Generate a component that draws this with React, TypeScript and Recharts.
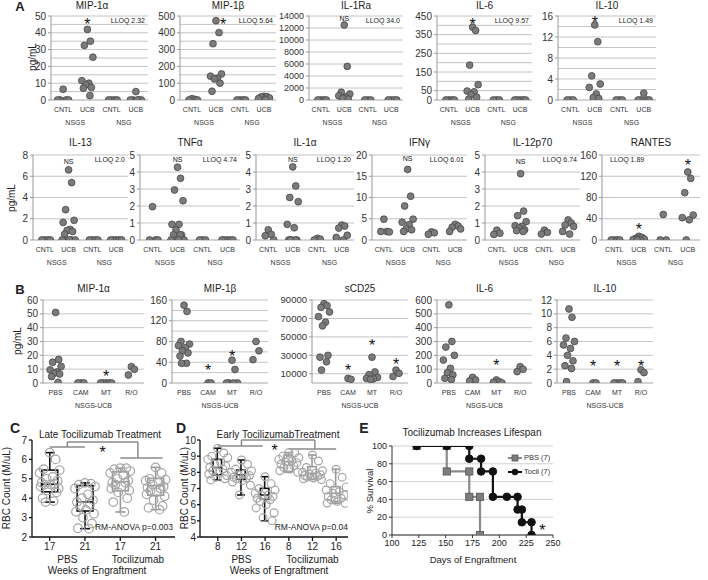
import React from 'react';
import {
  ScatterChart,
  ComposedChart,
  Scatter,
  Bar,
  Line,
  XAxis,
  YAxis,
  ReferenceLine,
  CartesianGrid
} from 'recharts';

const FONT = '"Liberation Sans", Arial, Helvetica, sans-serif';
const INK = '#222';
const DOT_FILL = '#7b7b7b';
const DOT_EDGE = '#474747';
const GRID = '#c4c4c4';

// ---------- A: cytokines in NSGS / NSG mice ----------
const mouseCats = ['CNTL', 'UCB', 'CNTL', 'UCB'];
const mouseGroups = ['NSGS', 'NSG'];

const aMip1a = [[6.4, 0, 0, 0, 0], [42, 35, 32.5, 25.5, 11.5, 10, 9, 7.5, 7, 2.6], [0, 0, 0, 0], [5, 0, 0, 0, 0, 0]];
const aMip1b = [[8, 3, 0, 0], [472, 401, 335, 155, 142, 130, 125, 100, 52], [0, 0, 0, 0], [22, 20, 18, 12, 8, 3]];
const aIl1ra = [[0, 0, 0, 0], [12500, 5600, 1300, 1000, 700, 500, 300, 150], [0, 0, 0], [0, 0, 0, 0]];
const aIl6 = [[0, 0, 0, 0], [390, 372, 187, 82, 48, 44, 28, 15, 4], [0, 0, 0], [0, 0, 0, 0, 0]];
const aIl10 = [[0, 0, 0], [14.3, 11.1, 4.6, 3.05, 2.4, 1.15, 0.45, 0.3], [0, 0, 0], [1.3, 0, 0, 0, 0]];

const aIl13 = [[0, 0, 0, 0], [6.6, 5.4, 2.85, 1.85, 1.65, 1.0, 0.9, 0.8, 0.55, 0, 0, 0, 0, 0], [0, 0, 0, 0], [0, 0, 0, 0, 0]];
const aTnfa = [[1.96, 0, 0, 0], [4.28, 3.63, 2.94, 2.31, 0.92, 0.92, 0.6, 0.3, 0.3, 0.3, 0, 0, 0, 0], [0, 0, 0], [0, 0, 0, 0, 0]];
const aIl1a = [[0.6, 0.33, 0.25, 0], [4.3, 3.18, 2.5, 2.25, 0.92, 0.72, 0, 0, 0, 0, 0], [0.1, 0.05, 0], [0.88, 0.82, 0.7, 0.28, 0.15, 0]];
const aIfng = [[4.9, 2, 2, 1.9], [16.6, 10.3, 8.0, 4.9, 4.2, 3.6, 2.6, 2.4, 2.0], [1.9, 1.7, 1.35], [3.7, 3.3, 3.0, 2.6, 2.0]];
const aIl12 = [[0.58, 0.4, 0.33], [3.9, 1.7, 1.43, 1.08, 0.84, 0.8, 0.7, 0.6, 0.55, 0.5], [0.58, 0.45, 0.35], [1.18, 1.0, 0.88, 0.8, 0.5, 0.35]];
const aRantes = [[0, 0, 0, 0], [7, 5, 3, 2, 1, 0, 0], [48, 0, 0], [128, 116, 89, 47, 42, 38, 0]];

// ---------- B: NSGS-UCB treatments ----------
const treatCats = ['PBS', 'CAM', 'MT', 'R/O'];
const treatGroups = ['NSGS-UCB'];

const bMip1a = [[51, 17, 15, 12, 9.5, 8, 7, 6.5, 4.6, 0.5], [0, 0, 0], [0, 0, 0, 0, 0], [11.8, 9.9, 5.8]];
const bMip1b = [[150, 138, 80, 75, 72, 68, 62, 58, 52, 38, 38], [0, 0], [44, 26, 0, 0, 0, 0], [80, 62, 45]];
const bScd25 = [[86000, 84000, 82000, 77000, 72000, 66000, 62000, 30000, 28000, 23000, 14000], [5000, 4000], [28000, 12000, 9000, 6000, 5000, 4500, 4000], [14000, 10500, 7000]];
const bIl6 = [[565, 300, 260, 200, 166, 106, 74, 58, 34, 25], [41, 22, 15], [22, 9, 5, 0], [118, 99, 82]];
const bIl10 = [[10.7, 9.5, 6.5, 6, 5.5, 5, 4, 3.2, 2.5, 2.1, 0.2], [0, 0], [0, 0, 0, 0], [1.9, 1.5, 0.2]];

// ---------- C / D: RBC counts ----------
const cWeeks = ['17', '21', '17', '21'];
const cGroups = ['PBS', 'Tocilizumab'];
// min, q1, median, q3, max
const cStats = [
  [3.8, 4.33, 4.72, 5.45, 6.35],
  [2.43, 3.34, 3.81, 4.65, 4.79],
  [3.29, 4.38, 4.85, 5.36, 5.55],
  [3.41, 4.15, 4.65, 5.02, 5.59]
];
const cPoints = [
  [6.35, 6.0, 5.5, 5.45, 5.3, 5.1, 5.0, 4.9, 4.8, 4.75, 4.7, 4.7, 4.6, 4.5, 4.4, 4.3, 4.0, 3.85, 3.8],
  [4.79, 4.75, 4.7, 4.6, 4.5, 4.2, 4.0, 3.9, 3.8, 3.7, 3.6, 3.4, 3.3, 3.2, 3.0, 2.7, 2.45, 2.43],
  [5.55, 5.55, 5.5, 5.4, 5.3, 5.2, 5.0, 4.9, 4.8, 4.8, 4.7, 4.6, 4.5, 4.4, 4.3, 4.0, 3.8, 3.29],
  [5.59, 5.3, 5.0, 4.95, 4.9, 4.8, 4.7, 4.6, 4.55, 4.5, 4.4, 4.3, 4.2, 4.1, 3.9, 3.6, 3.5, 3.41]
];

const dWeeks = ['8', '12', '16', '8', '12', '16'];
const dGroups = ['PBS', 'Tocilizumab'];
const dStats = [
  [7.53, 7.85, 8.3, 8.8, 9.49],
  [6.6, 7.57, 7.84, 8.14, 8.76],
  [5.0, 6.33, 6.6, 7.01, 7.73],
  [8.0, 8.05, 8.66, 9.07, 9.22],
  [7.55, 7.57, 7.94, 8.35, 9.07],
  [6.08, 6.19, 6.7, 7.11, 8.19]
];
const dPoints = [
  [9.49, 9.2, 9.0, 8.9, 8.8, 8.6, 8.5, 8.4, 8.3, 8.2, 8.1, 8.0, 7.9, 7.8, 7.7, 7.6, 7.53],
  [8.76, 8.5, 8.2, 8.1, 8.0, 7.9, 7.85, 7.8, 7.7, 7.65, 7.6, 7.5, 7.4, 7.2, 6.6],
  [7.73, 7.3, 7.0, 6.9, 6.7, 6.6, 6.55, 6.5, 6.4, 6.3, 6.2, 6.0, 5.8, 5.5, 5.2, 5.0],
  [9.22, 9.2, 9.0, 8.9, 8.8, 8.7, 8.65, 8.6, 8.5, 8.4, 8.3, 8.2, 8.1, 8.0],
  [9.07, 8.7, 8.3, 8.1, 8.0, 7.95, 7.9, 7.85, 7.8, 7.75, 7.7, 7.65, 7.6, 7.55],
  [8.19, 7.7, 7.3, 7.1, 6.9, 6.8, 6.7, 6.6, 6.5, 6.4, 6.3, 6.2, 6.1, 6.08]
];

// ---------- E: survival ----------
const pbsDays = [123, 151, 151, 172, 172, 182, 182];
const pbsSurv = [100, 100, 71.4, 71.4, 42.9, 42.9, 0];
const tocDays = [123, 151, 172, 172, 183, 183, 194, 194, 207, 217, 217, 221, 221, 230, 230];
const tocSurv = [100, 100, 100, 85.7, 85.7, 71.4, 71.4, 42.9, 42.9, 42.9, 28.6, 28.6, 14.3, 14.3, 0];
const dayTicks = [100, 125, 150, 175, 200, 225, 250];
const survTicks = [0, 20, 40, 60, 80, 100];

const steps = (max: number, step: number) =>
  Array.from({ length: Math.round(max / step) + 1 }, (_, i) => i * step);

function Txt({ x, y, size = 10, anchor = 'middle', bold = false, rotate = false, color = INK, children }: any) {
  const tx = anchor === 'middle' ? '-50%' : anchor === 'end' ? '-100%' : '0';
  return (
    <div
      style={{
        position: 'absolute',
        left: x,
        top: y,
        transform: `translate(${tx}, -50%)${rotate ? ' rotate(-90deg)' : ''}`,
        fontSize: size,
        fontWeight: bold ? 700 : 400,
        whiteSpace: 'nowrap',
        lineHeight: 1,
        color,
        fontFamily: FONT
      }}
    >
      {children}
    </div>
  );
}

const JIT = [0, 3, -3, 5.5, -5.5, 1.5, -1.5, 4, -4, 2.5, -2.5, 6.5, -6.5, 1, -1];

function DotShape(props: any) {
  const { cx, cy, payload } = props;
  if (cx == null || cy == null) return null;
  return (
    <circle cx={cx + JIT[payload.k % JIT.length]} cy={cy} r={3.4} fill={DOT_FILL} stroke={DOT_EDGE} strokeWidth={0.8} />
  );
}

function NoteShape(props: any) {
  const { cx, cy, payload } = props;
  if (cx == null || cy == null) return null;
  const star = payload.text === '*';
  return (
    <text x={cx} y={cy + (star ? 9 : 2.5)} textAnchor="middle" fontSize={star ? 16 : 7} fontFamily={FONT} fill="#111">
      {payload.text}
    </text>
  );
}

type Note = { at: number; v: number; text: string };
type DotCfg = {
  title: string;
  values: number[][];
  cats: string[];
  groups: { label: string; at: number }[];
  max: number;
  ticks: number[];
  grid: number[];
  notes: Note[];
  lloq?: string;
  lloqLeft?: boolean;
  x0: number;
  x1: number;
  y0: number;
  y1: number;
  titleY: number;
  titleX?: number;
  tickFont?: number;
};

function DotPanel({ c }: { c: DotCfg }) {
  const AXW = 44, PT = 14, PR = 4, XH = 32;
  const n = c.cats.length;
  const step = (c.x1 - c.x0) / n;
  const pts = c.values.flatMap((vals, ci) => vals.map((v, k) => ({ x: ci + 1, y: v, k })));
  const notes = c.notes.map((m) => ({ x: m.at, y: m.v, text: m.text }));
  const catTick = (props: any) => {
    const { x, y, payload } = props;
    const v = payload.value as number;
    return (
      <g fontFamily={FONT} fill="#333" fontSize={7}>
        <text x={x} y={y + 12} textAnchor="middle">{c.cats[v - 1]}</text>
        {c.groups
          .filter((g) => Math.floor(g.at) === v)
          .map((g) => (
            <text key={g.label} x={x + (g.at - v) * step} y={y + 25} textAnchor="middle">
              {g.label}
            </text>
          ))}
      </g>
    );
  };
  return (
    <>
      <div style={{ position: 'absolute', left: c.x0 - AXW, top: c.y0 - PT }}>
        <ScatterChart
          width={c.x1 - c.x0 + AXW + PR}
          height={c.y1 - c.y0 + PT + XH}
          margin={{ top: PT, right: PR, bottom: 0, left: 0 }}
        >
          {c.grid.map((g) => (
            <ReferenceLine key={g} y={g} stroke={GRID} strokeWidth={1} />
          ))}
          <XAxis
            type="number"
            dataKey="x"
            domain={[0.5, n + 0.5]}
            ticks={c.cats.map((_, i) => i + 1)}
            interval={0}
            tick={catTick}
            tickLine={false}
            tickSize={0}
            tickMargin={0}
            axisLine={{ stroke: GRID }}
            height={XH}
            allowDataOverflow
          />
          <YAxis
            type="number"
            dataKey="y"
            domain={[0, c.max]}
            ticks={c.ticks}
            interval={0}
            width={AXW}
            tick={{ fontSize: c.tickFont ?? 10, fill: '#333', fontFamily: FONT }}
            tickSize={3}
            tickMargin={2}
            tickLine={{ stroke: '#999' }}
            axisLine={{ stroke: '#999' }}
            allowDataOverflow
          />
          <Scatter data={pts} shape={DotShape} isAnimationActive={false} />
          <Scatter data={notes} shape={NoteShape} isAnimationActive={false} />
        </ScatterChart>
      </div>
      <Txt x={c.titleX ?? (c.x0 + c.x1) / 2} y={c.titleY} size={10}>
        {c.title}
      </Txt>
      {c.lloq ? (
        c.lloqLeft ? (
          <Txt x={c.x0 + 8} y={c.y0 + 4} size={7} anchor="start">{c.lloq}</Txt>
        ) : (
          <Txt x={c.x1 - 3} y={c.y0 + 4} size={7} anchor="end">{c.lloq}</Txt>
        )
      ) : null}
    </>
  );
}

const mg = [{ label: mouseGroups[0], at: 1.5 }, { label: mouseGroups[1], at: 3.5 }];
const tg = [{ label: treatGroups[0], at: 2.5 }];

const rowA1: DotCfg[] = [
  { title: 'MIP-1α', values: aMip1a, max: 50, ticks: [0, 10, 20, 30, 40, 50], grid: steps(50, 5), notes: [{ at: 2, v: 47, text: '*' }], lloq: 'LLOQ 2.32', x0: 51, x1: 148, titleX: 92 },
  { title: 'MIP-1β', values: aMip1b, max: 500, ticks: [0, 100, 200, 300, 400, 500], grid: steps(500, 50), notes: [{ at: 2.3, v: 472, text: '*' }], lloq: 'LLOQ 5.64', x0: 180, x1: 276 },
  { title: 'IL-1Ra', values: aIl1ra, max: 14000, ticks: [0, 2000, 4000, 6000, 8000, 10000, 12000, 14000], grid: steps(14000, 2000), notes: [{ at: 2, v: 13600, text: 'NS' }], lloq: 'LLOQ 34.0', x0: 309, x1: 403, tickFont: 9 },
  { title: 'IL-6', values: aIl6, max: 450, ticks: [0, 50, 150, 250, 350, 450], grid: steps(450, 50), notes: [{ at: 2, v: 425, text: '*' }], lloq: 'LLOQ 9.57', x0: 437, x1: 532 },
  { title: 'IL-10', values: aIl10, max: 16, ticks: [0, 4, 8, 12, 16], grid: steps(16, 2), notes: [{ at: 2, v: 15.5, text: '*' }], lloq: 'LLOQ 1.49', x0: 558, x1: 656 }
].map((p) => ({ ...p, cats: mouseCats, groups: mg, y0: 16, y1: 100, titleY: 6 }));

const rowA2: DotCfg[] = [
  { title: 'IL-13', values: aIl13, max: 8, ticks: [0, 2, 4, 6, 8], grid: steps(8, 2), notes: [{ at: 2, v: 7.4, text: 'NS' }], lloq: 'LLOQ 2.0', x0: 33, x1: 128 },
  { title: 'TNFα', values: aTnfa, max: 5, ticks: [0, 1, 2, 3, 4, 5], grid: steps(5, 1), notes: [{ at: 2, v: 4.75, text: 'NS' }], lloq: 'LLOQ 4.74', x0: 140, x1: 240 },
  { title: 'IL-1α', values: aIl1a, max: 5, ticks: [0, 1, 2, 3, 4, 5], grid: steps(5, 1), notes: [{ at: 2, v: 4.75, text: 'NS' }], lloq: 'LLOQ 1.20', x0: 256, x1: 354 },
  { title: 'IFNγ', values: aIfng, max: 20, ticks: [0, 5, 10, 15, 20], grid: steps(20, 5), notes: [{ at: 2, v: 19.2, text: 'NS' }], lloq: 'LLOQ 6.01', x0: 372, x1: 467 },
  { title: 'IL-12p70', values: aIl12, max: 5, ticks: [0, 1, 2, 3, 4, 5], grid: steps(5, 1), notes: [{ at: 2, v: 4.6, text: 'NS' }], lloq: 'LLOQ 6.74', x0: 485, x1: 580 },
  { title: 'RANTES', values: aRantes, max: 160, ticks: [0, 40, 80, 120, 160], grid: steps(160, 40), notes: [{ at: 2, v: 27, text: '*' }, { at: 4, v: 146, text: '*' }], lloq: 'LLOQ 1.89', lloqLeft: true, x0: 602, x1: 700 }
].map((p) => ({ ...p, cats: mouseCats, groups: mg, y0: 155, y1: 240, titleY: 143 }));

const rowB: DotCfg[] = [
  { title: 'MIP-1α', values: bMip1a, max: 60, ticks: [0, 10, 20, 30, 40, 50, 60], grid: steps(60, 10), notes: [{ at: 3, v: 7, text: '*' }], x0: 43, x1: 144 },
  { title: 'MIP-1β', values: bMip1b, max: 160, ticks: [0, 40, 80, 120, 160], grid: steps(160, 20), notes: [{ at: 2, v: 30, text: '*' }, { at: 3, v: 58, text: '*' }], x0: 172, x1: 268 },
  { title: 'sCD25', values: bScd25, max: 90000, ticks: [10000, 30000, 50000, 70000, 90000], grid: [0, 10000, 30000, 50000, 70000, 90000], notes: [{ at: 2, v: 17000, text: '*' }, { at: 3, v: 45000, text: '*' }, { at: 4, v: 24000, text: '*' }], x0: 312, x1: 408, tickFont: 9.5 },
  { title: 'IL-6', values: bIl6, max: 600, ticks: [0, 100, 200, 300, 400, 500, 600], grid: steps(600, 100), notes: [{ at: 3, v: 150, text: '*' }], x0: 437, x1: 532 },
  { title: 'IL-10', values: bIl10, max: 12, ticks: [0, 2, 4, 6, 8, 10, 12], grid: steps(12, 2), notes: [{ at: 2, v: 2.9, text: '*' }, { at: 3, v: 2.9, text: '*' }, { at: 4, v: 2.9, text: '*' }], x0: 557, x1: 653 }
].map((p) => ({ ...p, cats: treatCats, groups: tg, y0: 300, y1: 383, titleY: 289 }));

// ---------- box plots ----------
function BoxShape(props: any) {
  const { x, y, width, height, payload } = props;
  if (x == null || y == null || !payload) return null;
  const [mn, q1, md, q3, mx] = payload.s;
  const top = Math.min(y, y + height);
  const h = Math.abs(height);
  const py = (v: number) => top + (h * (mx - v)) / (mx - mn);
  const cx = x + width / 2;
  const cap = payload.cap;
  return (
    <g stroke={payload.color} strokeWidth={1.6} fill="none">
      <line x1={cx} x2={cx} y1={py(mx)} y2={py(q3)} />
      <line x1={cx} x2={cx} y1={py(q1)} y2={py(mn)} />
      <line x1={cx - cap / 2} x2={cx + cap / 2} y1={py(mx)} y2={py(mx)} />
      <line x1={cx - cap / 2} x2={cx + cap / 2} y1={py(mn)} y2={py(mn)} />
      <rect x={x} y={py(q3)} width={width} height={py(q1) - py(q3)} fill="none" />
      <line x1={x} x2={x + width} y1={py(md)} y2={py(md)} />
    </g>
  );
}

const JIT2 = [0, 6, -6, 10, -10, 3, -3, 8, -8, 5, -5, 1, -9, 9, -2, 7, -7, 4, -4];

function OpenDot(props: any) {
  const { cx, cy, payload } = props;
  if (cx == null || cy == null) return null;
  return (
    <circle cx={cx + JIT2[payload.k % JIT2.length]} cy={cy} r={payload.r} fill="none" stroke="#a6a6a6" strokeWidth={1.2} />
  );
}

type BoxCfg = {
  weeks: string[];
  groups: { label: string; at: number }[];
  stats: number[][];
  points: number[][];
  colors: string[];
  yDomain: [number, number];
  yTicks: number[];
  xDomain: [number, number];
  x0: number;
  x1: number;
  y0: number;
  y1: number;
  boxW: number;
  cap: number;
  r: number;
  tickMargin: number;
  brackets: number[][];
  star: { at: number; v: number };
};

function BoxPanel({ c }: { c: BoxCfg }) {
  const AXW = 22, PT = 12, PR = 4, XH = 34;
  const span = c.xDomain[1] - c.xDomain[0];
  const unit = (c.x1 - c.x0) / span;
  const rows = c.stats.map((s, i) => ({ x: i + 1, range: [s[0], s[4]], s, color: c.colors[i], cap: c.cap }));
  const pts = c.points.flatMap((vals, i) => vals.map((v, k) => ({ x: i + 1, y: v, k, r: c.r })));
  const notes = [{ x: c.star.at, y: c.star.v, text: '*' }];
  const weekTick = (props: any) => {
    const { x, y, payload } = props;
    const v = payload.value as number;
    return (
      <g fontFamily={FONT} fill="#222" fontSize={10}>
        <text x={x} y={y + 9} textAnchor="middle">{c.weeks[v - 1]}</text>
        {c.groups
          .filter((g) => Math.floor(g.at) === v)
          .map((g) => (
            <text key={g.label} x={x + (g.at - v) * unit} y={y + 22} textAnchor="middle">
              {g.label}
            </text>
          ))}
      </g>
    );
  };
  return (
    <div style={{ position: 'absolute', left: c.x0 - AXW, top: c.y0 - PT }}>
      <ComposedChart
        width={c.x1 - c.x0 + AXW + PR}
        height={c.y1 - c.y0 + PT + XH}
        data={rows}
        margin={{ top: PT, right: PR, bottom: 0, left: 0 }}
      >
        <XAxis
          type="number"
          dataKey="x"
          domain={c.xDomain}
          ticks={c.weeks.map((_, i) => i + 1)}
          interval={0}
          tick={weekTick}
          tickSize={4}
          tickMargin={0}
          axisLine={{ stroke: '#111', strokeWidth: 1.3 }}
          tickLine={{ stroke: '#111', strokeWidth: 1.3 }}
          height={XH}
          allowDataOverflow
        />
        <YAxis
          type="number"
          domain={c.yDomain}
          ticks={c.yTicks}
          interval={0}
          width={AXW}
          tick={{ fontSize: 10, fill: '#222', fontFamily: FONT }}
          tickSize={3}
          tickMargin={c.tickMargin}
          axisLine={{ stroke: '#111', strokeWidth: 1.3 }}
          tickLine={{ stroke: '#111', strokeWidth: 1.3 }}
          allowDataOverflow
        />
        {c.brackets.map((b, i) => (
          <ReferenceLine
            key={i}
            segment={[{ x: b[0], y: b[1] }, { x: b[2], y: b[3] }]}
            stroke="#8a8a8a"
            strokeWidth={1.5}
            ifOverflow="visible"
          />
        ))}
        <Bar dataKey="range" barSize={c.boxW} shape={BoxShape} isAnimationActive={false} />
        <Scatter data={pts} dataKey="y" shape={OpenDot} isAnimationActive={false} />
        <Scatter data={notes} dataKey="y" shape={NoteShape} isAnimationActive={false} />
      </ComposedChart>
    </div>
  );
}

const panelC: BoxCfg = {
  weeks: cWeeks,
  groups: [{ label: cGroups[0], at: 1.5 }, { label: cGroups[1], at: 3.5 }],
  stats: cStats,
  points: cPoints,
  colors: ['#111', '#111', '#9a9a9a', '#9a9a9a'],
  yDomain: [2, 7],
  yTicks: [2, 3, 4, 5, 6, 7],
  xDomain: [0.5, 4.55],
  x0: 32,
  x1: 175,
  y0: 440,
  y1: 537,
  boxW: 23,
  cap: 10,
  r: 4.3,
  tickMargin: 2,
  brackets: [
    [1, 6.64, 2, 6.64],
    [1.5, 6.64, 1.5, 6.9],
    [3, 6.07, 4.2, 6.07],
    [3.5, 6.07, 3.5, 6.9],
    [1.5, 6.9, 3.5, 6.9]
  ],
  star: { at: 2.5, v: 6.55 }
};

const panelD: BoxCfg = {
  weeks: dWeeks,
  groups: [{ label: dGroups[0], at: 2 }, { label: dGroups[1], at: 5 }],
  stats: dStats,
  points: dPoints,
  colors: ['#111', '#111', '#111', '#9a9a9a', '#9a9a9a', '#9a9a9a'],
  yDomain: [4, 10],
  yTicks: [4, 5, 6, 7, 8, 9, 10],
  xDomain: [0.25, 6.5],
  x0: 200,
  x1: 348,
  y0: 440,
  y1: 537,
  boxW: 19,
  cap: 8,
  r: 3.9,
  tickMargin: 1,
  brackets: [
    [1, 9.63, 2.9, 9.63],
    [2, 9.63, 2, 10],
    [4, 9.44, 6, 9.44],
    [5.1, 9.44, 5.1, 10],
    [2, 10, 5.1, 10]
  ],
  star: { at: 3.4, v: 9.55 }
};

// ---------- survival ----------
function SquareDot(props: any) {
  const { cx, cy } = props;
  if (cx == null || cy == null) return null;
  return <rect x={cx - 3.6} y={cy - 3.6} width={7.2} height={7.2} fill="#7d7d7d" stroke="#555" strokeWidth={0.8} />;
}
function RoundDot(props: any) {
  const { cx, cy } = props;
  if (cx == null || cy == null) return null;
  return <circle cx={cx} cy={cy} r={3.8} fill="#111" stroke="#111" />;
}

function SurvivalPanel() {
  const x0 = 392, x1 = 553, y0 = 446, y1 = 535;
  const AXW = 24, PT = 10, PR = 14, XH = 20;
  const pbs = pbsDays.map((d, i) => ({ day: d, s: pbsSurv[i] }));
  const toc = tocDays.map((d, i) => ({ day: d, s: tocSurv[i] }));
  const notes = [{ day: 240, s: 9, text: '*' }];
  return (
    <div style={{ position: 'absolute', left: x0 - AXW, top: y0 - PT }}>
      <ComposedChart width={x1 - x0 + AXW + PR} height={y1 - y0 + PT + XH} margin={{ top: PT, right: PR, bottom: 0, left: 0 }}>
        <CartesianGrid vertical={false} stroke="#cfcfcf" />
        <XAxis
          type="number"
          dataKey="day"
          domain={[100, 250]}
          ticks={dayTicks}
          interval={0}
          tick={{ fontSize: 9, fill: '#222', fontFamily: FONT }}
          tickSize={3}
          tickMargin={2}
          axisLine={{ stroke: '#333' }}
          tickLine={{ stroke: '#333' }}
          height={XH}
          allowDataOverflow
        />
        <YAxis
          type="number"
          domain={[0, 100]}
          ticks={survTicks}
          interval={0}
          width={AXW}
          tick={{ fontSize: 9, fill: '#222', fontFamily: FONT }}
          tickSize={3}
          tickMargin={2}
          axisLine={{ stroke: '#333' }}
          tickLine={{ stroke: '#333' }}
          allowDataOverflow
        />
        <Line data={pbs} dataKey="s" type="linear" stroke="#8a8a8a" strokeWidth={2.2} dot={SquareDot} isAnimationActive={false} />
        <Line data={toc} dataKey="s" type="linear" stroke="#111" strokeWidth={2.2} dot={RoundDot} isAnimationActive={false} />
        <Scatter data={notes} dataKey="s" shape={NoteShape} isAnimationActive={false} />
      </ComposedChart>
    </div>
  );
}

function LegendRow({ y, label, square }: { y: number; label: string; square: boolean }) {
  return (
    <div style={{ position: 'absolute', left: 508, top: y - 5, display: 'flex', alignItems: 'center', fontFamily: FONT, fontSize: 7.5, color: '#333', lineHeight: 1 }}>
      <svg width={14} height={10} style={{ marginRight: 2 }}>
        <line x1={0} x2={14} y1={5} y2={5} stroke={square ? '#8a8a8a' : '#111'} strokeWidth={2} />
        {square ? <rect x={4} y={2} width={6} height={6} fill="#7d7d7d" stroke="#555" strokeWidth={0.8} /> : <circle cx={7} cy={5} r={3.2} fill="#111" />}
      </svg>
      <span>{label}</span>
    </div>
  );
}

export default function App() {
  return (
    <div style={{ position: 'absolute', left: 0, top: 0, width: 708, height: 580, background: '#fff', overflow: 'hidden', fontFamily: FONT }}>
      <Txt x={20} y={6} size={13} bold>A</Txt>
      <Txt x={20} y={289} size={13} bold>B</Txt>
      <Txt x={15} y={428} size={14} bold>C</Txt>
      <Txt x={181} y={428} size={14} bold>D</Txt>
      <Txt x={364} y={428} size={14} bold>E</Txt>

      <Txt x={33} y={57} size={10} rotate>pg/mL</Txt>
      <Txt x={12} y={198} size={10} rotate>pg/mL</Txt>
      <Txt x={18} y={341} size={10} rotate>pg/mL</Txt>

      {rowA1.map((c) => <DotPanel key={'a1' + c.title} c={c} />)}
      {rowA2.map((c) => <DotPanel key={'a2' + c.title} c={c} />)}
      {rowB.map((c) => <DotPanel key={'b' + c.title} c={c} />)}

      <Txt x={100} y={435} size={10}>Late Tocilizumab Treatment</Txt>
      <Txt x={7} y={488} size={10} rotate>RBC Count (M/uL)</Txt>
      <BoxPanel c={panelC} />
      <Txt x={173} y={527} size={8.5} anchor="end">RM-ANOVA p=0.003</Txt>
      <Txt x={97} y={571} size={10}>Weeks of Engraftment</Txt>

      <Txt x={278} y={435} size={10}>Early TocilizumabTreatment</Txt>
      <Txt x={185} y={488} size={10} rotate>RBC Count (M/uL)</Txt>
      <BoxPanel c={panelD} />
      <Txt x={348} y={527} size={8.5} anchor="end">RM-ANOVA p=0.04</Txt>
      <Txt x={279} y={571} size={10}>Weeks of Engraftment</Txt>

      <Txt x={472} y={433} size={10}>Tocilizumab Increases Lifespan</Txt>
      <Txt x={370} y={491} size={9.5} rotate>% Survival</Txt>
      <SurvivalPanel />
      <LegendRow y={458} label="PBS  (7)" square />
      <LegendRow y={472} label="Tocil (7)" square={false} />
      <Txt x={473} y={560} size={9.5}>Days of Engraftment</Txt>
    </div>
  );
}
